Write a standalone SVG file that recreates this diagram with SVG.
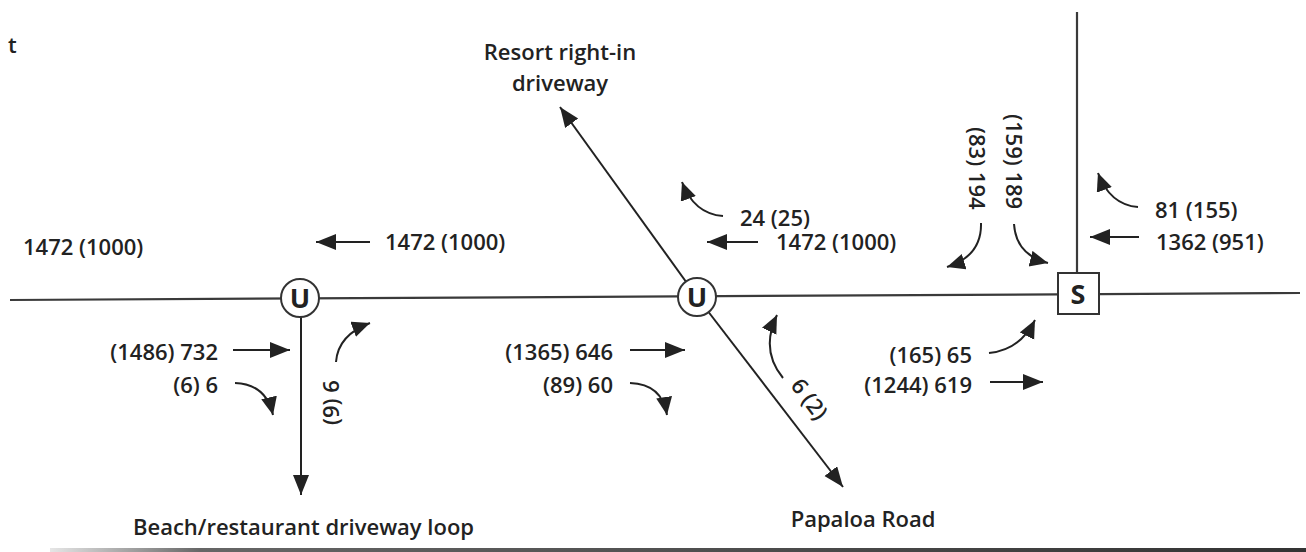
<svg xmlns="http://www.w3.org/2000/svg" width="1306" height="552" viewBox="0 0 1306 552">
<defs>
<marker id="ah" markerUnits="userSpaceOnUse" markerWidth="22" markerHeight="18" refX="20" refY="8" orient="auto">
<path d="M0,0 L20,8 L0,16 z" fill="#222"/>
</marker>
<marker id="ahs" markerUnits="userSpaceOnUse" markerWidth="22" markerHeight="18" refX="18" refY="8" orient="auto">
<path d="M0,0 L18,8 L0,16 z" fill="#222"/>
</marker>
<linearGradient id="bl" x1="50" y1="0" x2="1306" y2="0" gradientUnits="userSpaceOnUse">
<stop offset="0" stop-color="#e6e6e6"/>
<stop offset="0.12" stop-color="#666"/>
<stop offset="1" stop-color="#333"/>
</linearGradient>
</defs>
<style>
.road{stroke:#3a3a3a;stroke-width:2.2;fill:none}
.arr{stroke:#222;stroke-width:2;fill:none;marker-end:url(#ah)}
.crv{stroke:#222;stroke-width:2;fill:none;marker-end:url(#ahs)}
text{font-family:"Open Sans",Lato,"Liberation Sans",sans-serif;font-weight:600;fill:#222;font-size:22px}
.node{fill:#fff;stroke:#333;stroke-width:2}
.nl{font-size:27px;font-weight:700;text-anchor:middle}
</style>
<rect width="1306" height="552" fill="#fff"/>
<rect x="50" y="548" width="1256" height="4" fill="url(#bl)"/>
<g id="roads">
<path class="road" d="M10,300 L1300,293"/>
<path class="road" d="M1077,12 L1077,273"/>
</g>
<g id="connectors">
<path class="arr" d="M301,298 L301,495"/>
<path class="arr" d="M697,297 L560,107"/>
<path class="arr" d="M697,297 L843,487"/>
<path class="arr" d="M370,242 L316,242"/>
<path class="arr" d="M758,242 L707,242"/>
<path class="arr" d="M1139,237 L1090,237"/>
<path class="arr" d="M233,350 L290,350"/>
<path class="arr" d="M630,350 L685,350"/>
<path class="arr" d="M990,382 L1043,382"/>
<path class="crv" d="M235,383 Q266,384 273,415"/>
<path class="crv" d="M336,362 Q338,335 370,323"/>
<path class="crv" d="M630,383 Q662,384 667,415"/>
<path class="crv" d="M783,378 Q760,350 777,315"/>
<path class="crv" d="M723,216 Q694,214 682,182"/>
<path class="crv" d="M989,353 Q1020,350 1035,320"/>
<path class="crv" d="M1138,207 Q1110,205 1098,173"/>
<path class="crv" d="M981,223 Q982,256 947,267"/>
<path class="crv" d="M1014,224 Q1016,255 1048,263"/>
</g>
<g id="node-u1">
<circle class="node" cx="300" cy="298" r="19"/>
<text class="nl" x="300" y="308">U</text>
</g>
<g id="node-u2">
<circle class="node" cx="697" cy="297" r="19"/>
<text class="nl" x="697" y="307">U</text>
</g>
<g id="node-s">
<rect class="node" x="1058" y="273" width="41" height="41"/>
<text class="nl" x="1078" y="304">S</text>
</g>
<g id="labels">
<text x="8" y="53">t</text>
<text x="23" y="255">1472 (1000)</text>
<text x="385" y="250">1472 (1000)</text>
<text x="560" y="60" text-anchor="middle">Resort right-in</text>
<text x="560" y="91" text-anchor="middle">driveway</text>
<text x="740" y="226">24 (25)</text>
<text x="776" y="250">1472 (1000)</text>
<text x="1155" y="218">81 (155)</text>
<text x="1156" y="250">1362 (951)</text>
<text transform="translate(969,127) rotate(90)">(83) 194</text>
<text transform="translate(1006,114) rotate(90)">(159) 189</text>
<text x="218" y="360" text-anchor="end">(1486) 732</text>
<text x="218" y="393" text-anchor="end">(6) 6</text>
<text transform="translate(339,425) rotate(-90)">(9) 6</text>
<text x="613" y="360" text-anchor="end">(1365) 646</text>
<text x="613" y="393" text-anchor="end">(89) 60</text>
<text transform="translate(808,400) rotate(53)" x="0" y="6" text-anchor="middle">6 (2)</text>
<text x="972" y="363" text-anchor="end">(165) 65</text>
<text x="972" y="393" text-anchor="end">(1244) 619</text>
<text x="133" y="535">Beach/restaurant driveway loop</text>
<text x="863" y="527" text-anchor="middle">Papaloa Road</text>
</g>
</svg>
